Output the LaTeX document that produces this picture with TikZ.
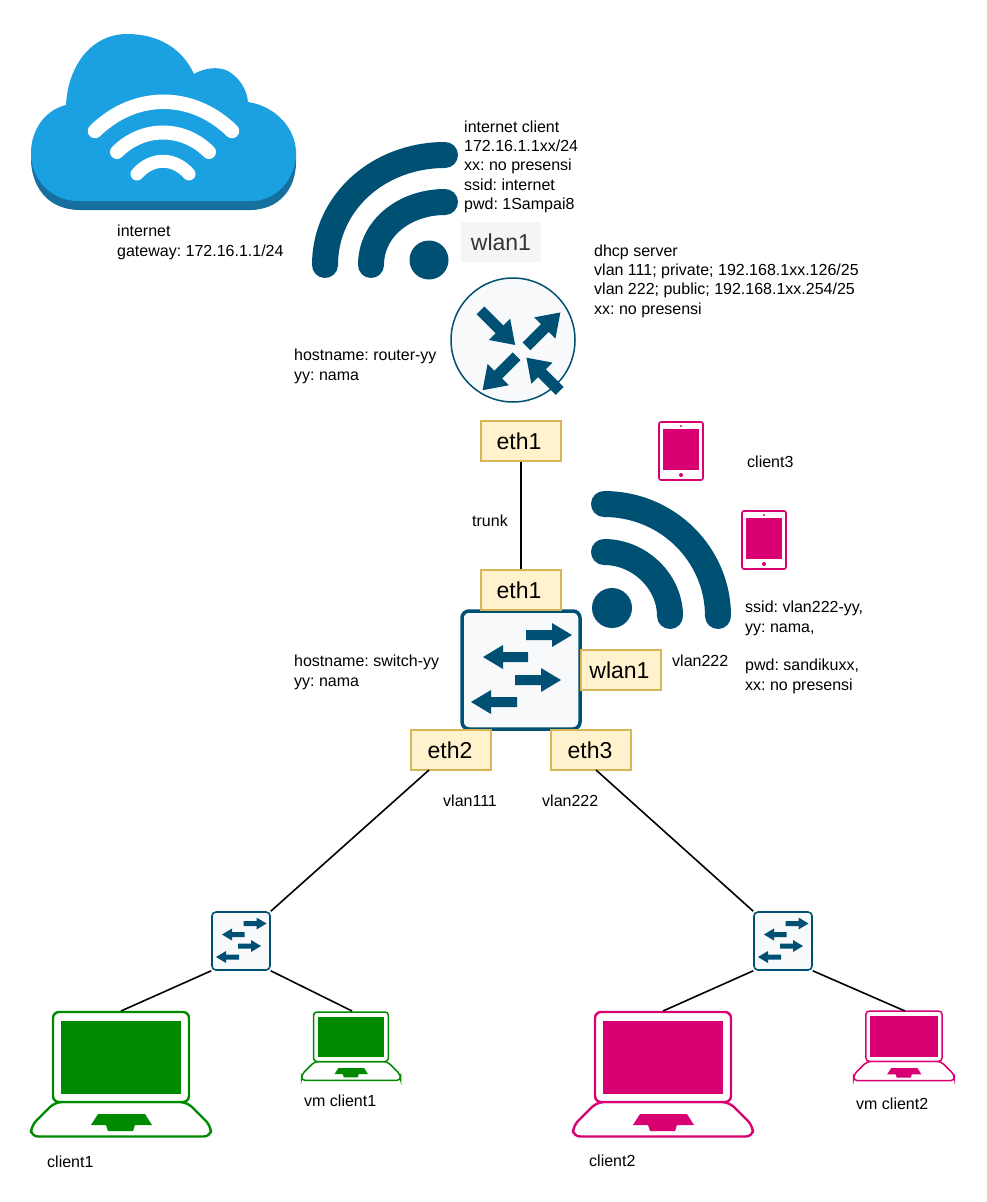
\documentclass[tikz,border=0pt]{standalone}
\usepackage{fontspec}
\setmainfont{Liberation Sans}
\frenchspacing
\definecolor{dkteal}{HTML}{005073}
\definecolor{cloudblue}{HTML}{1BA1E2}
\definecolor{clouddark}{HTML}{16709F}
\definecolor{devfill}{HTML}{F8F9FA}
\definecolor{pinkc}{HTML}{D80073}
\definecolor{greenc}{HTML}{008A00}
\definecolor{portfill}{HTML}{FFF2CC}
\definecolor{portline}{HTML}{D6B656}
\newcommand{\rarr}[3]{\fill[dkteal] (#1,#3-5) -- (#2-20,#3-5) -- (#2-20,#3-12) -- (#2,#3) -- (#2-20,#3+12) -- (#2-20,#3+5) -- (#1,#3+5) -- cycle;}
\newcommand{\larr}[3]{\fill[dkteal] (#2,#3-5) -- (#1+20,#3-5) -- (#1+20,#3-12) -- (#1,#3) -- (#1+20,#3+12) -- (#1+20,#3+5) -- (#2,#3+5) -- cycle;}
\newcommand{\rtarr}[3]{\fill[dkteal] (#1,#3-5.5) -- (#2-22,#3-5.5) -- (#2-22,#3-15) -- (#2,#3) -- (#2-22,#3+15) -- (#2-22,#3+5.5) -- (#1,#3+5.5) -- cycle;}
\newcommand{\swarrows}[3]{\begin{scope}[shift={(#1,#2)},scale=#3]
\rarr{5}{51}{-35}\larr{-38}{7}{-13}\rarr{-6}{40}{10}\larr{-50}{-4}{32}
\end{scope}}
\newcommand{\laptop}[5]{\begin{scope}[shift={(#1,#2)},scale=#3]
\draw[#4,line width=#5,rounded corners=#3*7pt,fill=white] (-66,90) -- (-90,114) -- (-90,124.5) -- (90,124.5) -- (90,114) -- (66,90) -- cycle;
\draw[#4,line width=#5,rounded corners=#3*6pt,fill=white] (-68,0) rectangle (68,90);
\fill[#4] (-60,9) rectangle (60,82);
\fill[#4] (-23,102) -- (24,102) -- (31,113) -- (14,113) -- (12,119) -- (-13,119) -- (-15,113) -- (-30,113) -- cycle;
\end{scope}}
\newcommand{\tablet}[2]{\begin{scope}[shift={(#1,#2)}]
\draw[pinkc,line width=1.6pt,rounded corners=2pt,fill=white] (0,0) rectangle (44,58);
\fill[pinkc] (4,7) rectangle (40,48);
\fill[pinkc] (22,4) circle (1.1);
\fill[pinkc] (22,53) circle (2);
\end{scope}}
\tikzset{
  port/.style={draw=portline,fill=portfill,line width=1.2pt,minimum width=80pt,minimum height=40pt,inner sep=0pt,font=\fontsize{23}{28}\selectfont},
  lbl/.style={anchor=north west,align=left,inner sep=0pt,font=\fontsize{16}{19.3}\selectfont},
  link/.style={black,line width=1.6pt},
  sw/.style={draw=dkteal,fill=devfill,rounded corners=#1,inner sep=0pt},
  wave/.style={dkteal,line width=26pt,line cap=round},
  cloudwave/.style={white,line cap=round}
}
\begin{document}
\begin{tikzpicture}[x=1pt,y=-1pt]
\useasboundingbox (0,0) rectangle (986,1202);
% cloud
\path[fill=clouddark] (31,150) -- (31,162) .. controls (33,190) and (50,210) .. (80,210) -- (250,210) .. controls (278,210) and (296,190) .. (296,162) -- (296,150) -- cycle;
\path[fill=cloudblue] (66,105) .. controls (68,65) and (92,34) .. (127,34) .. controls (158,34) and (182,48) .. (194,74) .. controls (204,68) and (218,66) .. (228,71) .. controls (240,78) and (247,90) .. (248,102) .. controls (275,106) and (296,128) .. (296,153) .. controls (296,180) and (275,201) .. (252,201) -- (78,201) .. controls (52,201) and (31,180) .. (31,153) .. controls (31,130) and (45,110) .. (66,105) -- cycle;
\draw[cloudwave,line width=14.5pt] (95,131) .. controls (135,92) and (192,92) .. (232,131);
\draw[cloudwave,line width=14pt] (117,152) .. controls (143,126) and (183,126) .. (209,152);
\draw[cloudwave,line width=13pt] (137,174) .. controls (152,157) and (174,157) .. (189,174);
% wifi top
\draw[wave] (325,265) .. controls (325,203) and (378,155) .. (445,155);
\draw[wave] (371,265) .. controls (371,228) and (405,202) .. (445,202);
\fill[dkteal] (429,260) circle (19.5);
% wifi bottom
\draw[wave] (604,504) .. controls (668,504) and (718,555) .. (718,616);
\draw[wave] (604,552) .. controls (640,552) and (670,582) .. (670,616);
\fill[dkteal] (612,608) circle (20);
% router
\node[circle,draw=dkteal,fill=devfill,line width=1.5pt,minimum size=124pt,inner sep=0pt] (router) at (513,340) {};
\begin{scope}[shift={(513,340)},rotate=45]\rtarr{5}{53}{14}\end{scope}
\begin{scope}[shift={(513,340)},rotate=-45]\rtarr{-44}{5}{2}\end{scope}
\begin{scope}[shift={(513,340)},rotate=-135]\rtarr{9}{57}{-14}\end{scope}
\begin{scope}[shift={(513,340)},rotate=135]\rtarr{-69}{-22}{-3}\end{scope}
% main switch
\node[sw=7pt,line width=3.5pt,minimum size=118pt] (sw0) at (521,670) {};
\swarrows{521}{670}{1}
% small switches
\node[sw=4pt,line width=1.6pt,minimum size=58pt] (sw1) at (241,941) {};
\swarrows{241}{941}{0.5}
\node[sw=4pt,line width=1.6pt,minimum size=58pt] (sw2) at (783,941) {};
\swarrows{783}{941}{0.5}
% ports
\node[port] (p1) at (521,441) {eth1\kern4pt};
\node[port] (p2) at (521,590) {eth1\kern4pt};
\node[port] (p3) at (621,670) {wlan1\kern3pt};
\node[port] (p4) at (451,750) {eth2\kern2pt};
\node[port] (p5) at (591,750) {eth3\kern2pt};
\node[fill=black!4,text=black!80,minimum width=80pt,minimum height=40pt,inner sep=0pt,font=\fontsize{23}{28}\selectfont] (w1) at (501,242) {wlan1};
% laptops
\laptop{121}{1012}{1}{greenc}{2.4pt}
\laptop{351}{1012}{0.55}{greenc}{1.5pt}
\laptop{663}{1012}{1}{pinkc}{2.4pt}
\laptop{904}{1011}{0.56}{pinkc}{1.5pt}
\coordinate (l1) at (121,1011);
\coordinate (l2) at (352,1011);
\coordinate (l3) at (663,1011);
\coordinate (l4) at (905,1011);
\coordinate (e2) at (429,770);
\coordinate (e3) at (596,770);
% tablets
\tablet{659}{422}
\tablet{742}{511}
% links
\draw[link] (p1) -- (p2);
\draw[link] (e2) -- (sw1.north east);
\draw[link] (e3) -- (sw2.north west);
\draw[link] (sw1.south west) -- (l1);
\draw[link] (sw1.south east) -- (l2);
\draw[link] (sw2.south west) -- (l3);
\draw[link] (sw2.south east) -- (l4);
% labels
\node[lbl] (t1) at (464,120.5) {internet client\\172.16.1.1xx/24\\xx: no presensi\\ssid: internet\\pwd: 1Sampai8};
\node[lbl] (t2) at (117,225) {internet\\gateway: 172.16.1.1/24};
\node[lbl] (t3) at (594,244.5) {dhcp server\\vlan 111; private; 192.168.1xx.126/25\\vlan 222; public; 192.168.1xx.254/25\\xx: no presensi};
\node[lbl] (t4) at (294,349) {hostname: router-yy\\yy: nama};
\node[lbl] (t5) at (472,515) {trunk};
\node[lbl] (t6) at (747,456) {client3};
\node[lbl] (t7) at (745,601) {ssid: vlan222-yy,\\yy: nama,\\[19.3pt]pwd: sandikuxx,\\xx: no presensi};
\node[lbl] (t8) at (672,655) {vlan222};
\node[lbl] (t9) at (294,655) {hostname: switch-yy\\yy: nama};
\node[lbl] (t10) at (443,795) {vlan111};
\node[lbl] (t11) at (542,795) {vlan222};
\node[lbl] (t12) at (304,1095) {vm client1};
\node[lbl] (t13) at (47,1156) {client1};
\node[lbl] (t14) at (589,1155) {client2};
\node[lbl] (t15) at (856,1098) {vm client2};
\end{tikzpicture}
\end{document}
